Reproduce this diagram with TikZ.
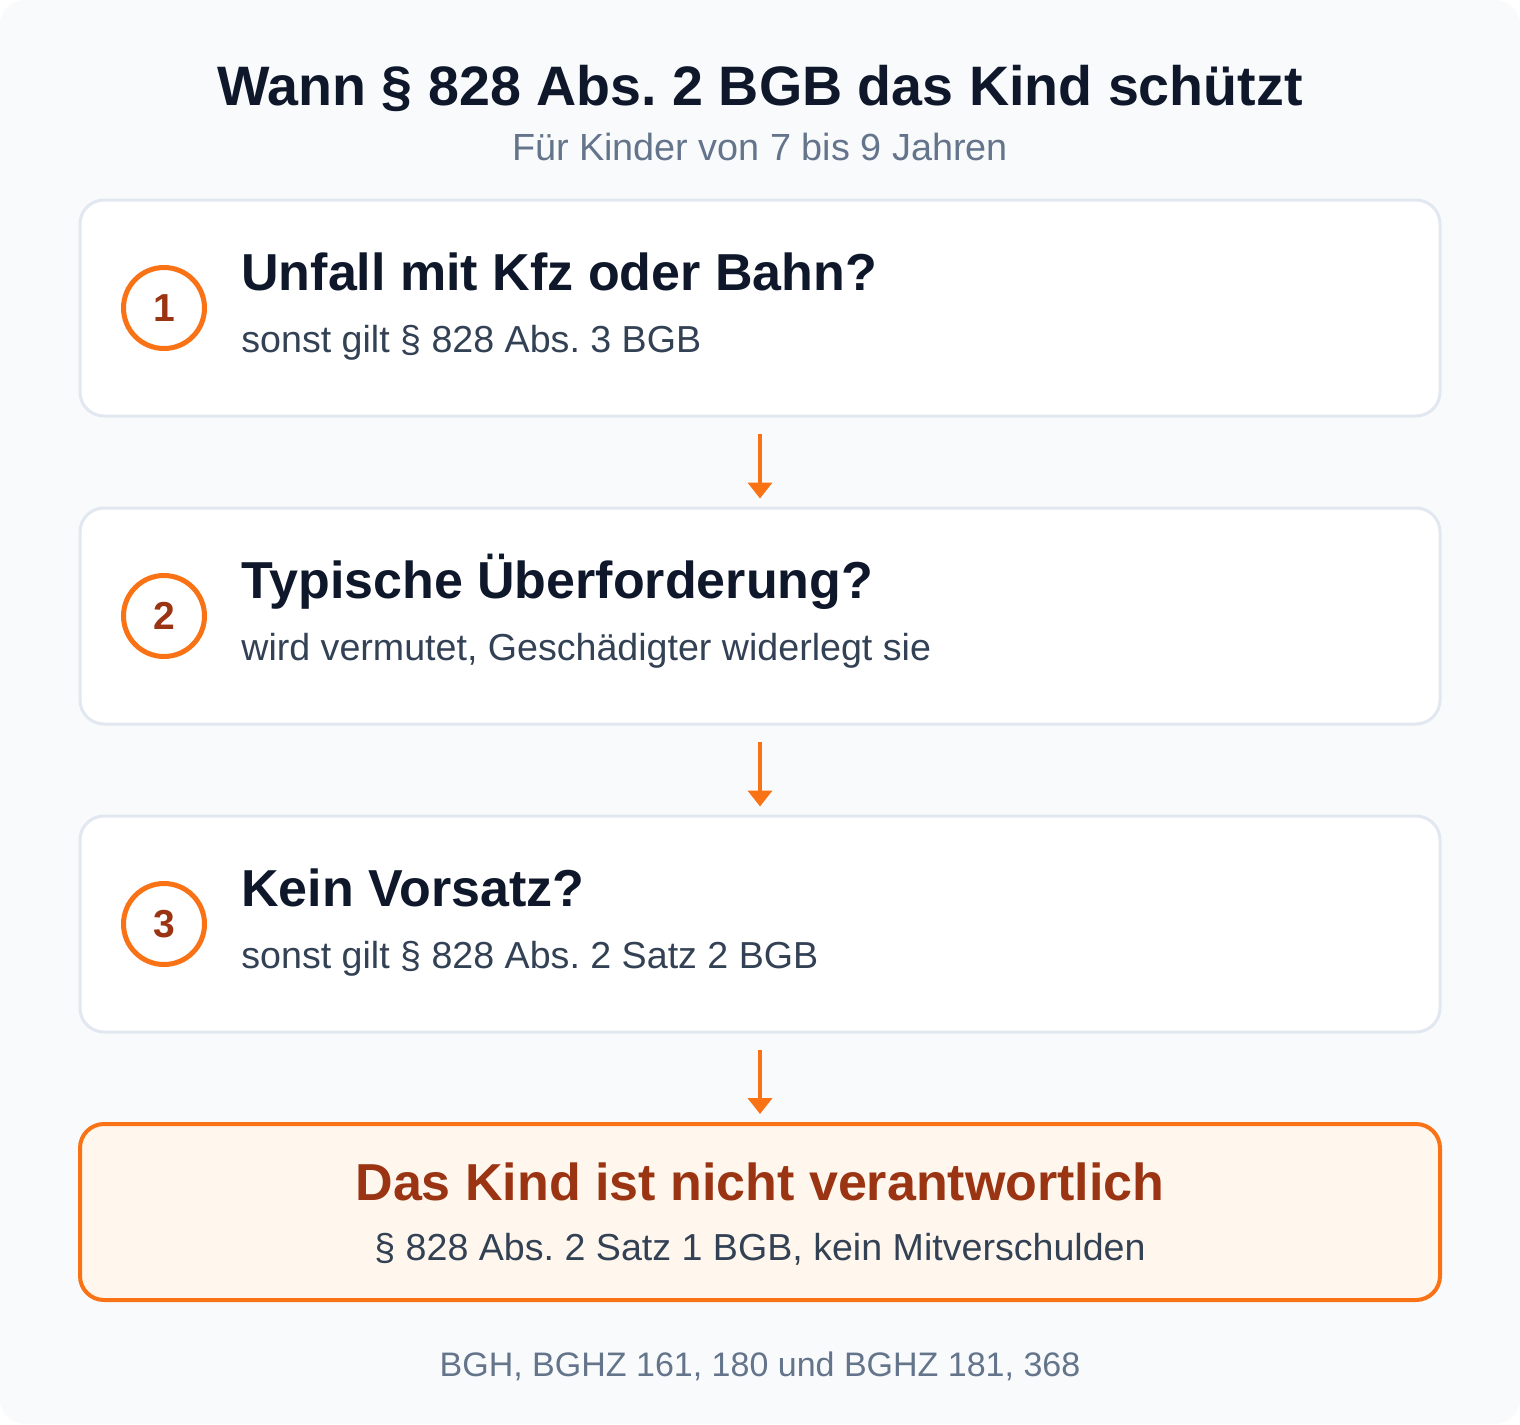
\documentclass[tikz,border=0pt]{standalone}
\usepackage{fontspec}
\setmainfont{Liberation Sans}
\frenchspacing
\usetikzlibrary{arrows.meta,positioning}
\definecolor{bgcol}{HTML}{F8FAFC}
\definecolor{edgecol}{HTML}{E2E8F0}
\definecolor{orangecol}{HTML}{F97316}
\definecolor{rustcol}{HTML}{9A3412}
\definecolor{inkcol}{HTML}{0F172A}
\definecolor{notecol}{HTML}{334155}
\definecolor{mutedcol}{HTML}{64748B}
\definecolor{resultfill}{HTML}{FFF7ED}
\tikzset{
	stepbox/.style={draw=edgecol,line width=1.5pt,fill=white,rounded corners=12pt,minimum width=680pt,minimum height=108pt,inner sep=0pt},
	resultbox/.style={draw=orangecol,line width=2pt,fill=resultfill,rounded corners=12pt,minimum width=680pt,minimum height=88pt,inner sep=0pt},
	numcircle/.style={circle,draw=orangecol,line width=2.5pt,fill=white,minimum size=40.5pt,inner sep=0pt,text=rustcol,font=\fontsize{19.5}{22}\selectfont\bfseries},
	steptitle/.style={anchor=base west,inner sep=0pt,text=inkcol,font=\fontsize{26}{30}\selectfont\bfseries},
	stepnote/.style={anchor=base west,inner sep=0pt,text=notecol,font=\fontsize{18.8}{22}\selectfont},
	flowarrow/.style={draw=orangecol,line width=2pt,-{Triangle[length=8pt,width=12pt]},shorten <=8pt,shorten >=4pt}
}
\begin{document}
\begin{tikzpicture}[x=0.5pt,y=-0.5pt]
		\useasboundingbox (0,0) rectangle (1520,1424);
		\fill[bgcol,rounded corners=12pt] (0,0) rectangle (1520,1424);
		%
		\node[anchor=base,inner sep=0pt,text=inkcol,font=\fontsize{27.8}{34}\selectfont\bfseries] (title) at (760,105) {Wann § 828 Abs. 2 BGB das Kind schützt};
		\node[anchor=base,inner sep=0pt,text=mutedcol,font=\fontsize{18.9}{22}\selectfont] (subtitle) at (760,160) {Für Kinder von 7 bis 9 Jahren};
		%
		\node[stepbox] (b1) at (760,308) {};
		\node[numcircle] (n1) at (164,308) {1};
		\node[steptitle] (t1) at (241,290) {Unfall mit Kfz oder Bahn?};
		\node[stepnote] (s1) at (241,352) {sonst gilt § 828 Abs. 3 BGB};
		%
		\node[stepbox] (b2) at (760,616) {};
		\node[numcircle] (n2) at (164,616) {2};
		\node[steptitle] (t2) at (241,598) {Typische Überforderung?};
		\node[stepnote] (s2) at (241,660) {wird vermutet, Geschädigter widerlegt sie};
		%
		\node[stepbox] (b3) at (760,924) {};
		\node[numcircle] (n3) at (164,924) {3};
		\node[steptitle] (t3) at (241,906) {Kein Vorsatz?};
		\node[stepnote] (s3) at (241,968) {sonst gilt § 828 Abs. 2 Satz 2 BGB};
		%
		\node[resultbox] (b4) at (760,1212) {};
		\node[steptitle,anchor=base,text=rustcol] (t4) at (760,1200) {Das Kind ist nicht verantwortlich};
		\node[stepnote,anchor=base] (s4) at (760,1260) {§ 828 Abs. 2 Satz 1 BGB, kein Mitverschulden};
		%
		\draw[flowarrow] (b1) -- (b2);
		\draw[flowarrow] (b2) -- (b3);
		\draw[flowarrow] (b3) -- (b4);
		%
		\node[anchor=base,inner sep=0pt,text=mutedcol,font=\fontsize{17}{20}\selectfont] (source) at (760,1376) {BGH, BGHZ 161, 180 und BGHZ 181, 368};
	\end{tikzpicture}
\end{document}
